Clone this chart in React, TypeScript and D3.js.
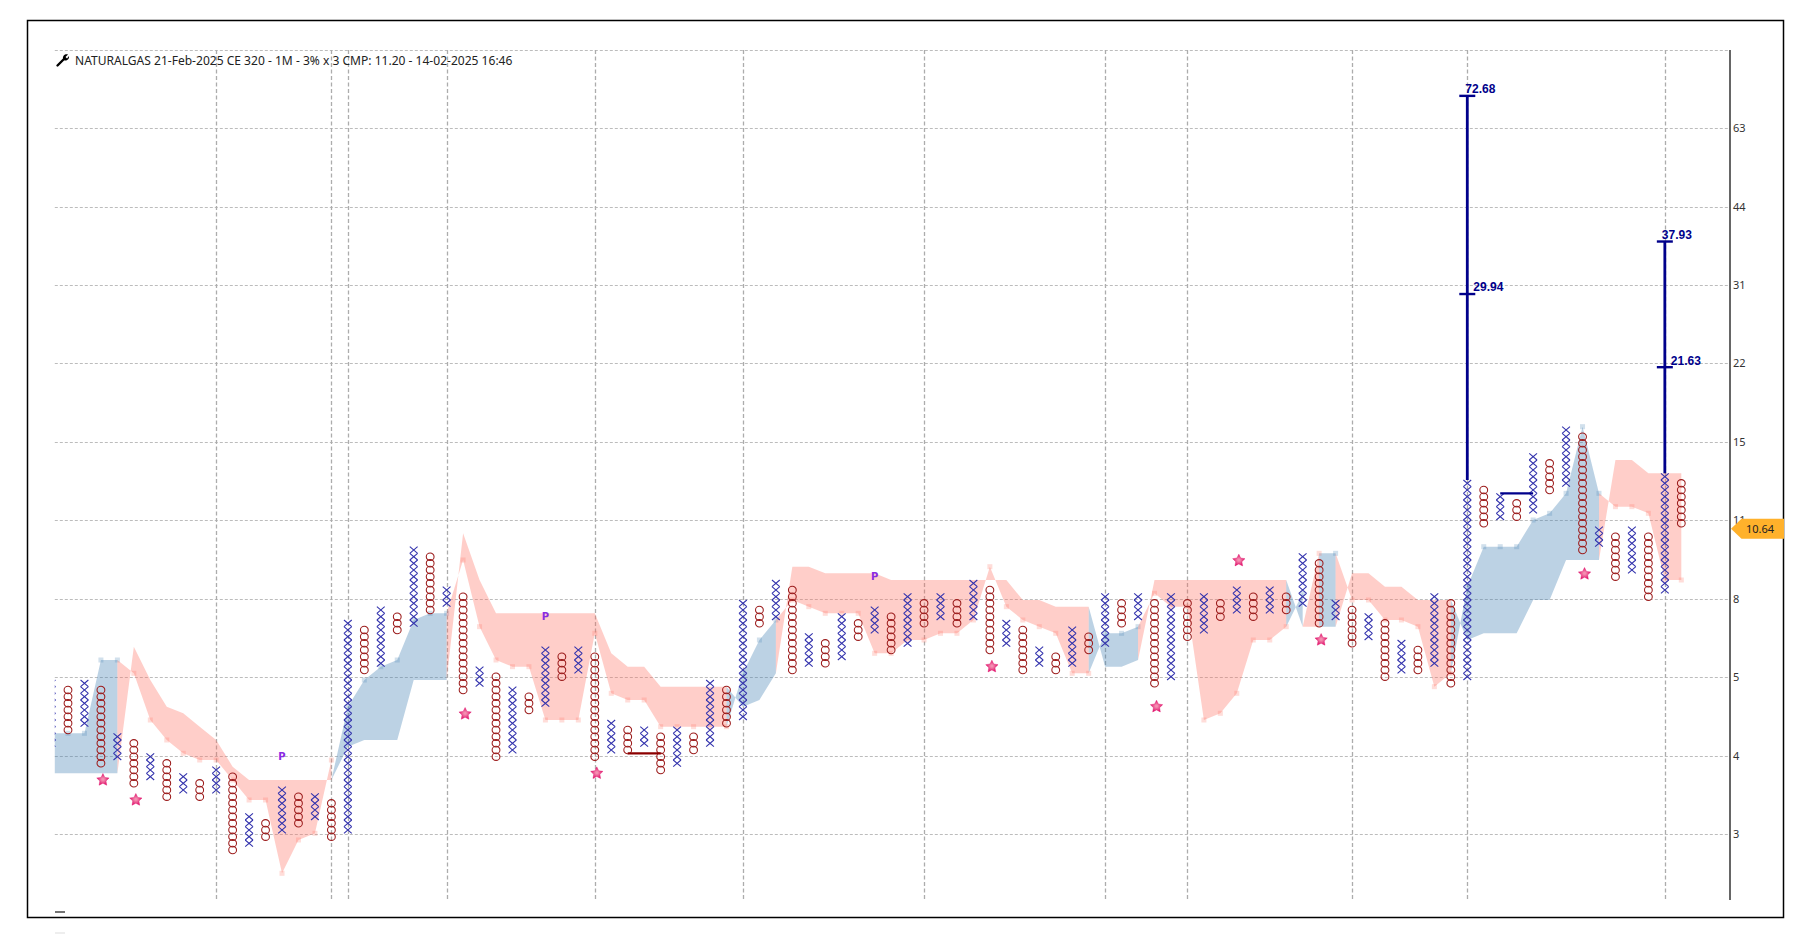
import { useEffect, useRef } from "react";
import * as d3 from "d3";

// point & figure columns, in box rows. Column -1 is clipped by the plot edge, odd columns are X.
const columnTops = [
  22, 21, 22, 21, 14, 13, 11, 10, 8, 7, 9, 8, 2, 1, 6, 5, 5, 4, 31, 30, 33, 32, 42, 41, 36,
  35, 24, 23, 21, 20, 27, 26, 27, 26, 16, 15, 15, 14, 15, 14, 22, 21, 34, 33, 37, 36, 29, 28, 32, 31,
  33, 32, 35, 34, 35, 34, 37, 36, 31, 30, 27, 26, 30, 29, 35, 34, 35, 34, 35, 34, 35, 34, 36, 35, 36, 35,
  41, 40, 34, 33, 32, 31, 28, 27, 35, 34, 52, 51, 50, 49, 56, 55, 60, 59, 45, 44, 45, 44, 53, 52,
];
const columnBottoms = [
  13, 15, 16, 10, 11, 7, 8, 5, 6, 5, 6, -3, -2, -1, 0, 1, 2, -1, 0, 24, 25, 30, 31, 33, 34,
  21, 22, 11, 12, 18, 19, 23, 24, 11, 12, 12, 13, 9, 10, 12, 13, 16, 17, 31, 32, 24, 25, 25, 26, 29,
  30, 27, 28, 31, 32, 31, 32, 27, 28, 24, 25, 24, 25, 27, 28, 31, 32, 22, 23, 29, 30, 32, 33, 32, 33, 33,
  34, 31, 32, 28, 29, 23, 24, 24, 25, 22, 23, 46, 47, 47, 48, 51, 52, 42, 43, 38, 39, 35, 36, 46,
];
const firstColumn = -1;

// cloud runs: spanA carries the square markers
const blueRuns = [
  { start: -1, spanA: [14.5, 14.5, 14.5, 25.5, 25.5], spanB: [8.5, 8.5, 8.5, 8.5, 8.5] },
  { start: 16, spanA: [7.5, 18.5, 22.5, 24.5, 25.5, 31.5, 32.5, 32.5], spanB: [7.5, 12.5, 13.5, 13.5, 13.5, 22.5, 22.5, 22.5] },
  { start: 40, spanA: [15.5, 23.5, 28.5, 31.5], spanB: [21.5, 18.5, 19.5, 23.5] },
  { start: 62, spanA: [23.5, 29.5, 29.5, 30.5], spanB: [33.5, 24.5, 24.5, 25.5] },
  { start: 74, spanA: [30.5, 35.5], spanB: [37.5, 30.5] },
  { start: 76, spanA: [41.5, 41.5], spanB: [30.5, 30.5] },
  { start: 84, spanA: [23.5, 36.5, 42.5, 42.5, 42.5, 46.5, 47.5, 50.5, 60.5, 50.5], spanB: [34.5, 28.5, 29.5, 29.5, 29.5, 34.5, 34.5, 40.5, 40.5, 40.5] },
];
const pinkRuns = [
  { start: 3, spanA: [25.5, 23.5, 16.5, 13.5, 11.5, 10.5, 10.5, 7.5, 4.5, 4.5, -6.5, -1.5, -0.5, 10.5], spanB: [8.5, 27.5, 22.5, 18.5, 17.5, 15.5, 13.5, 9.5, 7.5, 7.5, 7.5, 7.5, 7.5, 7.5] },
  { start: 23, spanA: [32.5, 40.5, 30.5, 25.5, 24.5, 24.5, 16.5, 16.5, 16.5, 29.5, 20.5, 19.5, 19.5, 15.5, 15.5, 15.5, 15.5, 15.5], spanB: [22.5, 44.5, 37.5, 32.5, 32.5, 32.5, 32.5, 32.5, 32.5, 32.5, 26.5, 24.5, 24.5, 21.5, 21.5, 21.5, 21.5, 21.5] },
  { start: 43, spanA: [31.5, 34.5, 33.5, 32.5, 32.5, 32.5, 26.5, 26.5, 28.5, 28.5, 29.5, 29.5, 31.5, 39.5, 33.5, 31.5, 30.5, 29.5, 23.5, 23.5], spanB: [23.5, 39.5, 39.5, 38.5, 38.5, 38.5, 38.5, 37.5, 37.5, 37.5, 37.5, 37.5, 37.5, 37.5, 37.5, 34.5, 34.5, 33.5, 33.5, 33.5] },
  { start: 65, spanA: [30.5, 35.5, 33.5, 33.5, 16.5, 17.5, 20.5, 28.5, 28.5, 30.5], spanB: [25.5, 37.5, 37.5, 37.5, 37.5, 37.5, 37.5, 37.5, 37.5, 37.5] },
  { start: 75, spanA: [30.5, 41.5], spanB: [30.5, 30.5] },
  { start: 77, spanA: [41.5, 34.5, 34.5, 31.5, 31.5, 30.5, 21.5, 23.5], spanB: [30.5, 38.5, 38.5, 36.5, 36.5, 34.5, 34.5, 34.5] },
  { start: 93, spanA: [50.5, 48.5, 48.5, 47.5, 37.5, 37.5], spanB: [40.5, 55.5, 55.5, 53.5, 53.5, 53.5] },
];

const priceTicks = [2.61, 3.72, 5.3, 7.55, 10.75, 15.3, 21.8, 31, 44.1, 62.8, 89.5];
const priceLabels = ["3", "4", "5", "8", "11", "15", "22", "31", "44", "63", ""];
const dividerColumns = [9, 16, 17, 23, 32, 41, 52, 63, 68, 78, 85, 97];

const stars = [
  [2, 7.5], [4, 4.5], [24, 17.4], [32, 8.5], [56, 24.5], [66, 18.5], [71, 40.4], [76, 28.5], [92, 38.4],
];
const patterns = [[13, 11.1], [29, 32], [49, 38]];
const trendLines = [
  { from: 34, to: 36, row: 11.5, color: "#8b0000" },
  { from: 87, to: 89, row: 50.5, color: "#00008b" },
];
const targets = [
  { column: 85, top: 72.68, mid: 29.94, baseRow: 52.5, topDx: -2, midDx: 6, topNudge: 0, midNudge: 1.3 },
  { column: 97, top: 37.93, mid: 21.63, baseRow: 53.5, topDx: -3, midDx: 6, topNudge: 1.3, midNudge: 2.3 },
];
const title = "NATURALGAS 21-Feb-2025 CE 320 - 1M - 3% x 3 CMP: 11.20 - 14-02-2025 16:46";
const lastPrice = 10.64;

const uiFont = "'Noto Sans', 'Open Sans', sans-serif";

// fatter than d3.symbolStar, closer to the chart's star icon
const fatStar = {
  draw(context: any, size: number) {
    const r = Math.sqrt(size);
    for (let i = 0; i < 10; i++) {
      const radius = i % 2 === 0 ? r : r * 0.5;
      const angle = (i * Math.PI) / 5;
      const px = radius * Math.sin(angle);
      const py = -radius * Math.cos(angle);
      if (i === 0) context.moveTo(px, py);
      else context.lineTo(px, py);
    }
    context.closePath();
  },
};

export default function App() {
  const svgRef = useRef<SVGSVGElement>(null);

  useEffect(() => {
    document.body.style.margin = "0";
    document.body.style.overflow = "hidden";
    if (!svgRef.current) return;

    const svg = d3.select(svgRef.current);
    svg.selectAll("*").remove();

    const plotLeft = 54.8;
    const plotRight = 1730;
    const plotTop = 50;
    const plotBottom = 900;

    const x = d3.scaleLinear().domain([0, 98]).range([68, 1681.3]);
    const yRow = d3.scaleLinear().domain([0, 60]).range([830, 430]);
    const yPrice = d3.scaleLog().domain([2.61, 62.8]).range([834.3, 128.3]);

    const defs = svg.append("defs");
    defs
      .append("clipPath")
      .attr("id", "plot-clip")
      .append("rect")
      .attr("x", plotLeft)
      .attr("y", plotTop)
      .attr("width", plotRight - plotLeft)
      .attr("height", plotBottom - plotTop);
    const grad = defs.append("radialGradient").attr("id", "star-fill");
    grad.append("stop").attr("offset", "15%").attr("stop-color", "#f48fb1");
    grad.append("stop").attr("offset", "100%").attr("stop-color", "#e0106a");

    // outer frame
    svg
      .append("rect")
      .attr("x", 27.5)
      .attr("y", 20.5)
      .attr("width", 1756)
      .attr("height", 897)
      .attr("fill", "none")
      .attr("stroke", "#000")
      .attr("stroke-width", 1.5);

    // grid
    svg
      .append("g")
      .selectAll("line")
      .data(priceTicks)
      .join("line")
      .attr("x1", plotLeft)
      .attr("x2", plotRight)
      .attr("y1", (d) => Math.round(yPrice(d)) + 0.5)
      .attr("y2", (d) => Math.round(yPrice(d)) + 0.5)
      .attr("stroke", "#bcbcbc")
      .attr("stroke-dasharray", "3,2");
    svg
      .append("g")
      .selectAll("line")
      .data(dividerColumns)
      .join("line")
      .attr("x1", (d) => Math.round(x(d)) + 0.5)
      .attr("x2", (d) => Math.round(x(d)) + 0.5)
      .attr("y1", plotTop)
      .attr("y2", plotBottom)
      .attr("stroke", "#acacac")
      .attr("stroke-width", 1.3)
      .attr("stroke-dasharray", "4,2.5");

    // cloud
    const plot = svg.append("g").attr("clip-path", "url(#plot-clip)");
    const drawRuns = (runs: typeof blueRuns, color: string, opacity: number) => {
      runs.forEach((run) => {
        const points = run.spanA.map((a, i) => ({ col: run.start + i, a, b: run.spanB[i] }));
        const runArea = d3
          .area<(typeof points)[0]>()
          .x((d) => x(d.col))
          .y0((d) => yRow(d.a))
          .y1((d) => yRow(d.b));
        plot
          .append("path")
          .attr("d", runArea(points))
          .attr("fill", color)
          .attr("fill-opacity", opacity);
        plot
          .append("g")
          .selectAll("rect")
          .data(points.slice(1))
          .join("rect")
          .attr("x", (d) => x(d.col) - 2.5)
          .attr("y", (d) => yRow(d.a) - 2.5)
          .attr("width", 5)
          .attr("height", 5)
          .attr("fill", color)
          .attr("fill-opacity", opacity * 0.7);
      });
    };
    drawRuns(blueRuns, "#4682b4", 0.36);
    drawRuns(pinkRuns, "#ff6f61", 0.34);

    // X and O columns
    const columns = columnTops.map((top, i) => ({
      col: firstColumn + i,
      boxes: d3.range(columnBottoms[i], top + 1),
    }));
    const columnGroups = plot
      .append("g")
      .selectAll("g")
      .data(columns)
      .join("g")
      .attr("transform", (d) => `translate(${x(d.col)},0)`);
    columnGroups
      .filter((d) => d.col % 2 === 0)
      .selectAll("ellipse")
      .data((d) => d.boxes)
      .join("ellipse")
      .attr("cy", (d) => yRow(d))
      .attr("rx", 3.9)
      .attr("ry", 3.7)
      .attr("fill", "none")
      .attr("stroke", "#9c1c1c")
      .attr("stroke-width", 1.05);
    columnGroups
      .filter((d) => d.col % 2 !== 0)
      .selectAll("path")
      .data((d) => d.boxes)
      .join("path")
      .attr("d", (d) => {
        const y = yRow(d);
        return `M-3.9,${y - 3.33}L3.9,${y + 3.33}M-3.9,${y + 3.33}L3.9,${y - 3.33}`;
      })
      .attr("fill", "none")
      .attr("stroke", "#3333ad")
      .attr("stroke-width", 1.1);

    // trend lines
    svg
      .append("g")
      .selectAll("line")
      .data(trendLines)
      .join("line")
      .attr("x1", (d) => x(d.from))
      .attr("x2", (d) => x(d.to))
      .attr("y1", (d) => yRow(d.row))
      .attr("y2", (d) => yRow(d.row))
      .attr("stroke", (d) => d.color)
      .attr("stroke-width", 2.2);

    // stars and pattern letters
    const star = d3.symbol().type(fatStar).size(42);
    svg
      .append("g")
      .selectAll("path")
      .data(stars)
      .join("path")
      .attr("d", star)
      .attr("transform", (d) => `translate(${x(d[0]) + 2},${yRow(d[1])})`)
      .attr("fill", "url(#star-fill)")
      .attr("stroke", "#e0106a")
      .attr("stroke-width", 0.4);
    svg
      .append("g")
      .selectAll("text")
      .data(patterns)
      .join("text")
      .attr("x", (d) => x(d[0]))
      .attr("y", (d) => yRow(d[1]))
      .attr("dy", "0.36em")
      .attr("text-anchor", "middle")
      .attr("font-family", "'DejaVu Sans', sans-serif")
      .attr("font-weight", "bold")
      .attr("font-size", 10)
      .attr("fill", "#8a2be2")
      .text("P");

    // price targets
    const targetGroup = svg.append("g");
    targets.forEach((t) => {
      const cx = x(t.column);
      const levels = [
        { value: t.top, dx: t.topDx, y: yPrice(t.top) + t.topNudge },
        { value: t.mid, dx: t.midDx, y: yPrice(t.mid) + t.midNudge },
      ];
      targetGroup
        .append("line")
        .attr("x1", cx)
        .attr("x2", cx)
        .attr("y1", levels[0].y)
        .attr("y2", yRow(t.baseRow))
        .attr("stroke", "#00008b")
        .attr("stroke-width", 2.8);
      levels.forEach((level) => {
        targetGroup
          .append("line")
          .attr("x1", cx - 8)
          .attr("x2", cx + 8)
          .attr("y1", level.y)
          .attr("y2", level.y)
          .attr("stroke", "#00008b")
          .attr("stroke-width", 2.4);
        targetGroup
          .append("text")
          .attr("x", cx + level.dx)
          .attr("y", level.y - 7)
          .attr("dy", "0.36em")
          .attr("font-family", "'Liberation Sans', Arial, sans-serif")
          .attr("font-weight", "bold")
          .attr("font-size", 12)
          .attr("fill", "#00008b")
          .text(level.value.toFixed(2));
      });
    });

    // price axis
    const axis = d3
      .axisRight(yPrice)
      .tickValues(priceTicks)
      .tickSize(0)
      .tickPadding(3)
      .tickFormat((_, i) => priceLabels[i]);
    const axisGroup = svg.append("g").attr("transform", `translate(${plotRight},0)`).call(axis);
    axisGroup.select(".domain").remove();
    axisGroup
      .append("line")
      .attr("y1", plotTop)
      .attr("y2", plotBottom)
      .attr("stroke", "#333")
      .attr("stroke-width", 1.5);
    axisGroup
      .selectAll(".tick text")
      .attr("font-family", uiFont)
      .attr("font-size", 11)
      .attr("fill", "#333");

    // last price tag
    const tagY = yPrice(lastPrice) + 6.5;
    svg
      .append("path")
      .attr("d", `M1731,${tagY}L1741.5,${tagY - 10}H1784V${tagY + 10}H1741.5Z`)
      .attr("fill", "#ffb12b");
    svg
      .append("text")
      .attr("x", 1760)
      .attr("y", tagY)
      .attr("dy", "0.36em")
      .attr("text-anchor", "middle")
      .attr("font-family", uiFont)
      .attr("font-size", 11)
      .attr("fill", "#222")
      .text(lastPrice.toFixed(2));

    // title with wrench icon
    svg
      .append("path")
      .attr("d", "M57.5,65.5L64.5,58.5")
      .attr("stroke", "#000")
      .attr("stroke-width", 2.4)
      .attr("stroke-linecap", "round");
    svg
      .append("path")
      .attr("d", "M63,58.5C62.5,56 65,53.5 68,54.5L65.5,57L67,58.5L69,56C69.5,59 67,61 64.5,60.5Z")
      .attr("fill", "#000");
    svg
      .append("text")
      .attr("x", 75)
      .attr("y", 60.8)
      .attr("dy", "0.36em")
      .attr("font-family", uiFont)
      .attr("font-size", 12.05)
      .attr("fill", "#222")
      .text(title);

    // the two stray legend dashes under the plot
    svg
      .append("line")
      .attr("x1", 55)
      .attr("x2", 65)
      .attr("y1", 912)
      .attr("y2", 912)
      .attr("stroke", "#444")
      .attr("stroke-width", 1.5);
    svg
      .append("line")
      .attr("x1", 55)
      .attr("x2", 65)
      .attr("y1", 933)
      .attr("y2", 933)
      .attr("stroke", "#ddd");
  }, []);

  return (
    <svg
      ref={svgRef}
      width={1801}
      height={945}
      style={{ display: "block", background: "#fff" }}
    />
  );
}
